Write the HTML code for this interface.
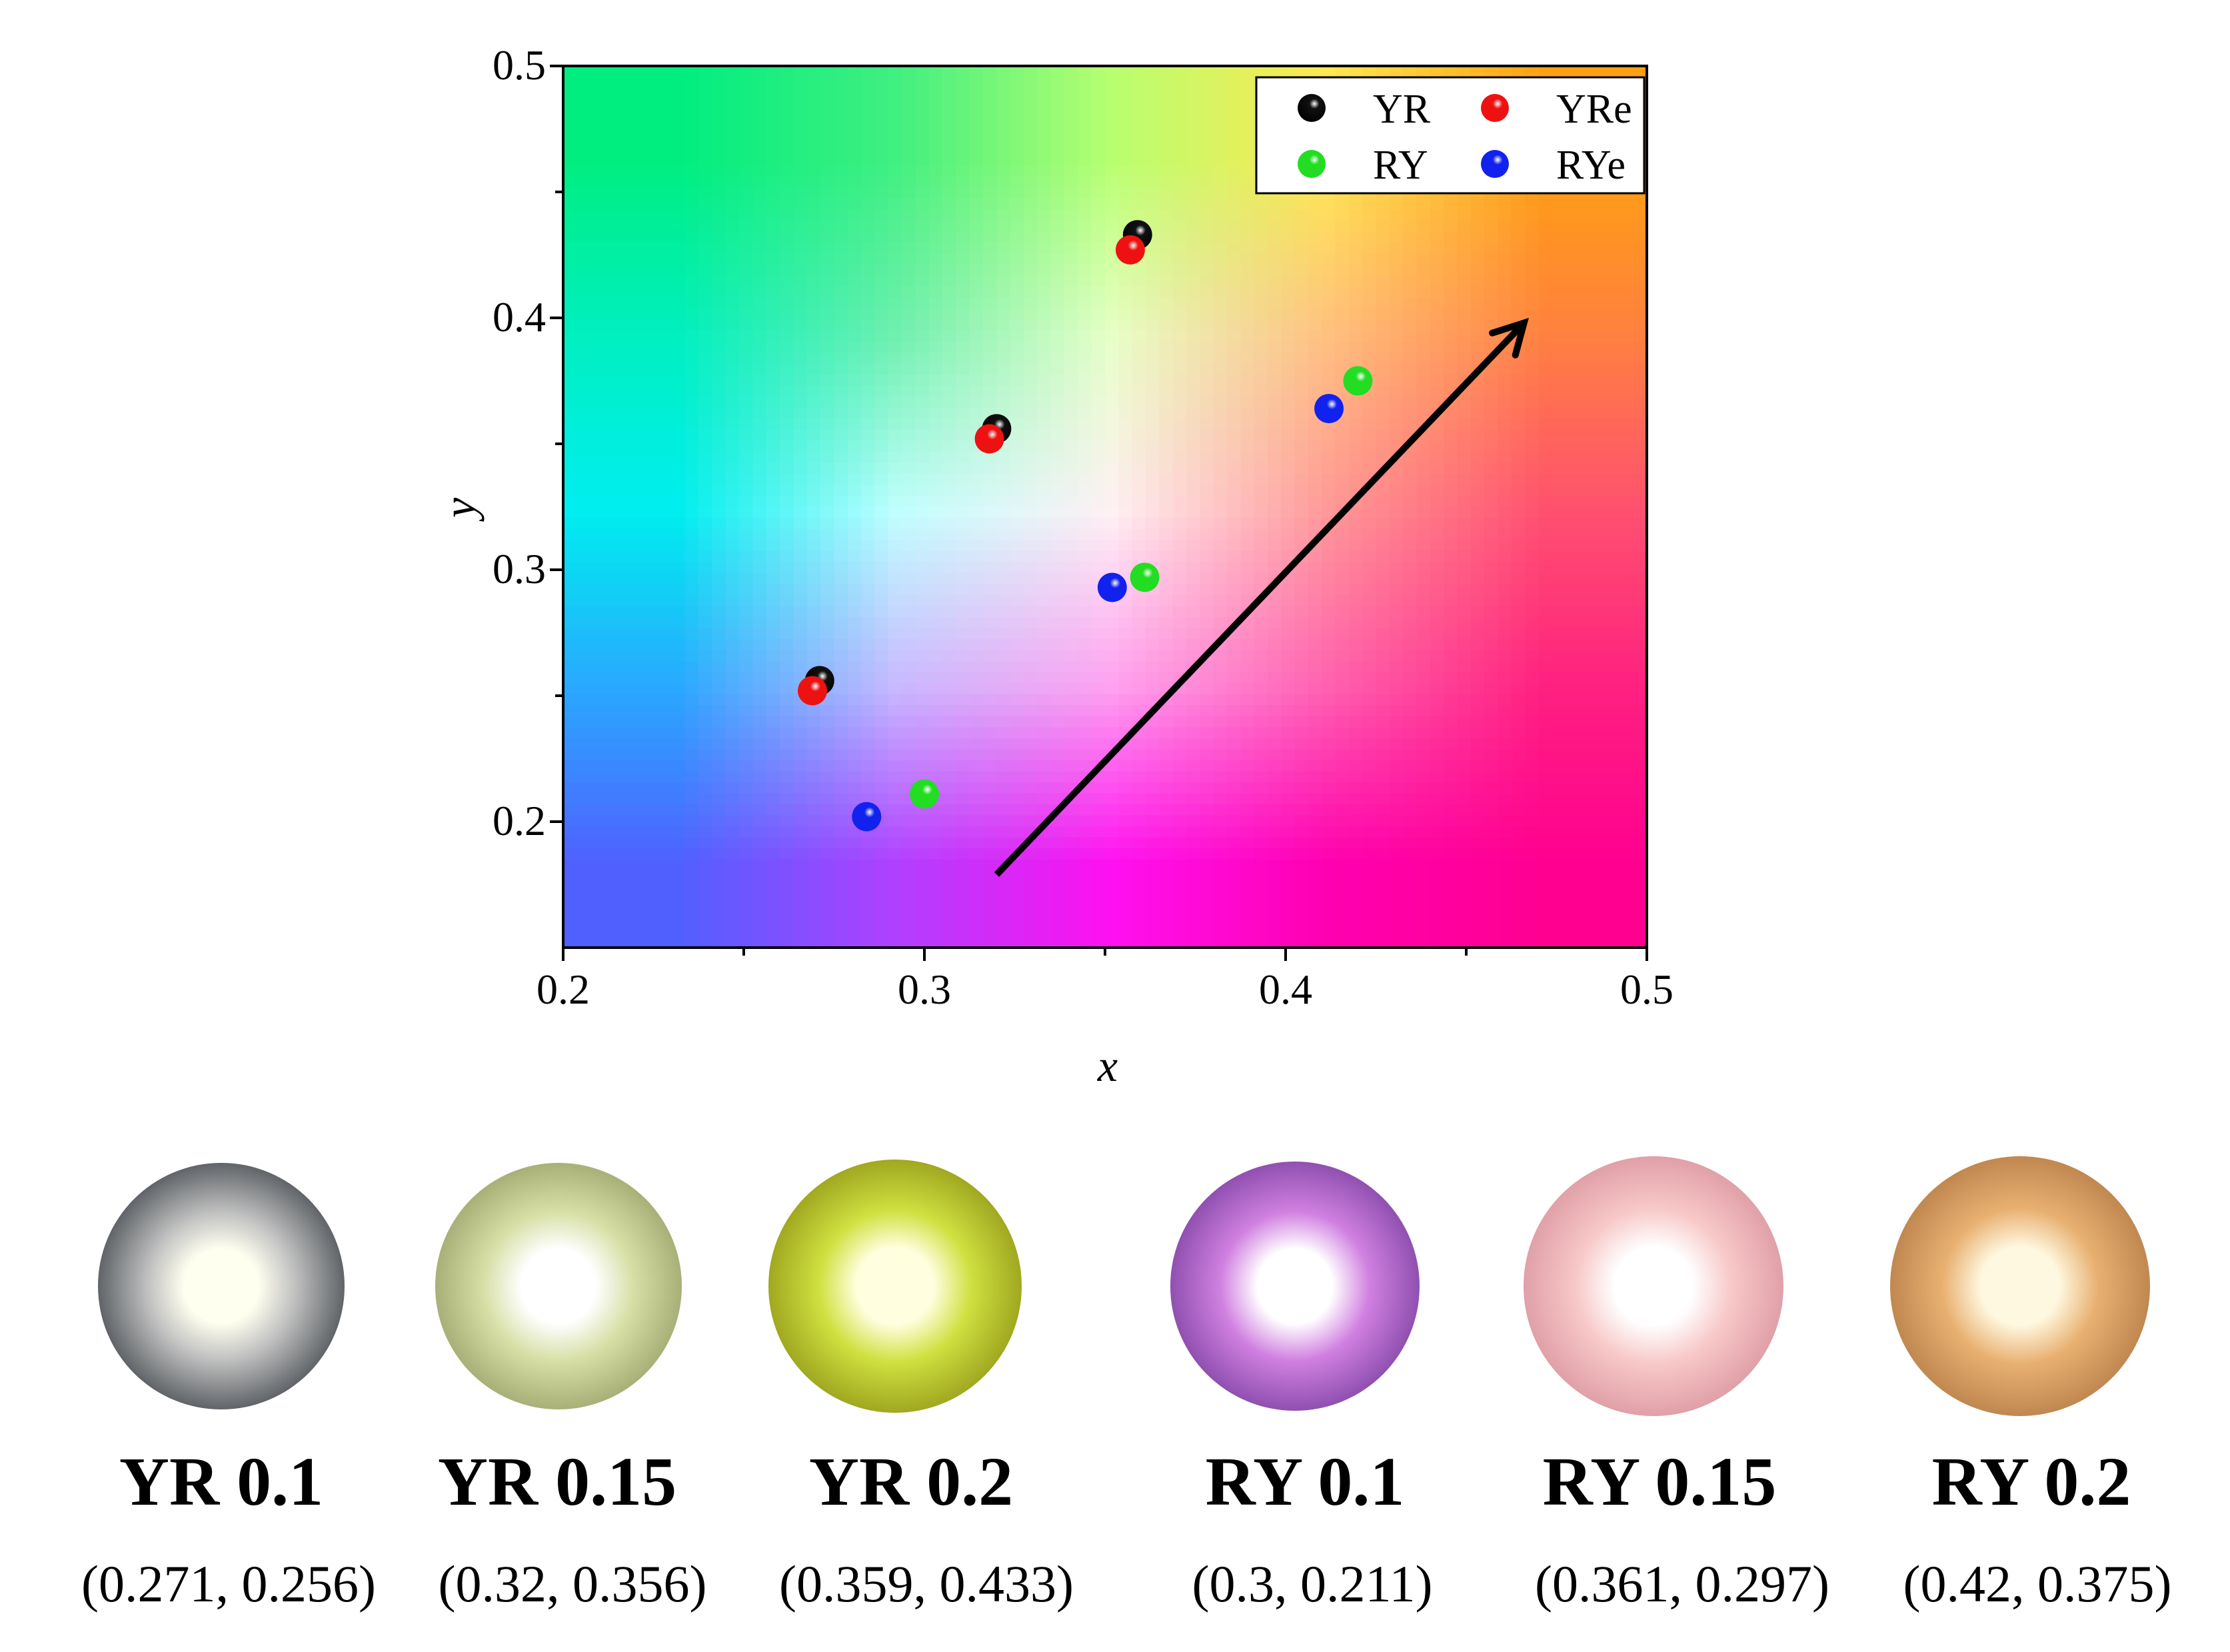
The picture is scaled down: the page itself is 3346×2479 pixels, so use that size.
<!DOCTYPE html>
<html><head><meta charset="utf-8"><style>
html,body{margin:0;padding:0;background:#fff;}
#wrap{position:relative;width:3346px;height:2479px;overflow:hidden;font-family:"Liberation Serif",serif;}
canvas{position:absolute;}
</style></head><body>
<div id="wrap">
<canvas id="bg" width="5" height="5" style="left:845px;top:99px;width:1626px;height:1323px;"></canvas>
<svg id="chart" width="3346" height="2479" style="position:absolute;left:0;top:0;">
<defs></defs>
<g id="plot"></g>
</svg>
</div>
<script>
const NS='http://www.w3.org/2000/svg';
// data
const seriesNames=['YR','YRe','RY','RYe'];
const seriesColors=['#111111','#ee1111','#22dd22','#1122ee'];
const yrX=[0.271,0.32,0.359], yrY=[0.256,0.356,0.433];
const yreX=[0.269,0.318,0.357], yreY=[0.252,0.352,0.427];
const ryX=[0.3,0.361,0.42], ryY=[0.211,0.297,0.375];
const ryeX=[0.284,0.352,0.412], ryeY=[0.202,0.293,0.364];
const xTicks=[0.2,0.3,0.4,0.5], xTickLabels=['0.2','0.3','0.4','0.5'];
const yTicks=[0.2,0.3,0.4,0.5], yTickLabels=['0.2','0.3','0.4','0.5'];
const xMinor=[0.25,0.35,0.45], yMinor=[0.25,0.35,0.45];
const arrowFrom=[0.32,0.179], arrowTo=[0.466,0.398];
const sampleNames=['YR 0.1','YR 0.15','YR 0.2','RY 0.1','RY 0.15','RY 0.2'];
const sampleCoords=['(0.271, 0.256)','(0.32, 0.356)','(0.359, 0.433)','(0.3, 0.211)','(0.361, 0.297)','(0.42, 0.375)'];

const L=845,R=2471,T=99,B=1422;
const X0=0.2,X1=0.5,Y0=0.15,Y1=0.5;
const sx=v=>L+(v-X0)/(X1-X0)*(R-L);
const sy=v=>B-(v-Y0)/(Y1-Y0)*(B-T);

const grid=[
['#00ee80','#40f080','#b8ff70','#ffe850','#ffa010'],
['#00f0c0','#70f0b0','#e8ffc8','#ffc080','#ff8040'],
['#00eef0','#c0ffff','#fff0f4','#ff9898','#ff5070'],
['#2aa8ff','#c8b8ff','#ffa0f0','#ff60b0','#ff2080'],
['#5060ff','#b040ff','#ff10f0','#ff00b0','#ff0090']];
const cv=document.getElementById('bg'),cx=cv.getContext('2d');
grid.forEach((row,j)=>row.forEach((c,i)=>{cx.fillStyle=c;cx.fillRect(i,j,1,1);}));

const g=document.getElementById('plot');
function el(t,a,p){const e=document.createElementNS(NS,t);for(const k in a)e.setAttribute(k,a[k]);(p||g).appendChild(e);return e;}

const frame=el('rect',{x:L,y:T,width:R-L,height:B-T,fill:'none',stroke:'#000','stroke-width':4});



xTicks.forEach((v,i)=>{
 const t=el('line',{x1:sx(v),x2:sx(v),y1:B,y2:B+20,stroke:'#000','stroke-width':4});
 
 
 const tx=el('text',{x:sx(v),y:B+84,'font-size':64,'text-anchor':'middle','font-family':'Liberation Serif, serif'});
 tx.textContent=xTickLabels[i];
 
 
});
xMinor.forEach(v=>{
 const t=el('line',{x1:sx(v),x2:sx(v),y1:B,y2:B+12,stroke:'#000','stroke-width':4});
 
 
});
yTicks.forEach((v,i)=>{
 const t=el('line',{x1:L-20,x2:L,y1:sy(v),y2:sy(v),stroke:'#000','stroke-width':4});
 
 
 const tx=el('text',{x:L-26,y:sy(v)+20,'font-size':64,'text-anchor':'end','font-family':'Liberation Serif, serif'});
 tx.textContent=yTickLabels[i];
 
 
});
yMinor.forEach(v=>{
 const t=el('line',{x1:L-12,x2:L,y1:sy(v),y2:sy(v),stroke:'#000','stroke-width':4});
 
 
});
const xt=el('text',{x:1662,y:1622,'font-size':68,'font-style':'italic','text-anchor':'middle','font-family':'Liberation Serif, serif'});
xt.textContent='x';


const yt=el('text',{x:0,y:0,'font-size':68,'font-style':'italic','text-anchor':'middle','font-family':'Liberation Serif, serif',transform:'translate(712,762) rotate(-90)'});
yt.textContent='y';



const defs=document.querySelector('defs');
seriesColors.forEach((c,i)=>{
 const rg=el('radialGradient',{id:'ball'+i,cx:'0.6',cy:'0.35',r:'0.7'},defs);
 el('stop',{offset:'0','stop-color':'#fff'},rg);
 el('stop',{offset:'0.25','stop-color':c},rg);
 el('stop',{offset:'1','stop-color':i===0?'#000':c},rg);
});
function ball(x,y,i,name){
 const c=el('circle',{cx:x,cy:y,r:22,fill:'url(#ball'+i+')'});
 
 
}
const allX=[yrX,yreX,ryX,ryeX],allY=[yrY,yreY,ryY,ryeY];
allX.forEach((xs,s)=>xs.forEach((v,k)=>ball(sx(v),sy(allY[s][k]),s,'point-'+seriesNames[s].toLowerCase())));

const ax1=sx(arrowFrom[0]),ay1=sy(arrowFrom[1]),ax2=sx(arrowTo[0]),ay2=sy(arrowTo[1]);
const ar=el('line',{x1:ax1,y1:ay1,x2:ax2,y2:ay2,stroke:'#000','stroke-width':10});


const ang=Math.atan2(ay2-ay1,ax2-ax1),hl=50;
const ah=el('polyline',{points:`${ax2-hl*Math.cos(ang-0.5)},${ay2-hl*Math.sin(ang-0.5)} ${ax2},${ay2} ${ax2-hl*Math.cos(ang+0.5)},${ay2-hl*Math.sin(ang+0.5)}`,fill:'none',stroke:'#000','stroke-width':10,'stroke-linecap':'round'});



const lg=el('g',{});


el('rect',{x:1885,y:116,width:582,height:174,fill:'#fff',stroke:'#000','stroke-width':3},lg);
const lpos=[[1968,162],[2243,162],[1968,246],[2243,246]];
seriesNames.forEach((n,i)=>{
 const c=el('circle',{cx:lpos[i][0],cy:lpos[i][1],r:21,fill:'url(#ball'+i+')'},lg);
 
 
 const t=el('text',{x:lpos[i][0]+92,y:lpos[i][1]+22,'font-size':62,'font-family':'Liberation Serif, serif'},lg);
 t.textContent=n;
 
 
});

const cxs=[332,838,1343,1943,2481,3031];
const labelX=[332,836,1367,1958,2490,3048];
const coordX=[343,859,1390,1969,2524,3057];
const rim=['#606468','#a8b078','#a0a820','#9050b0','#e0a0a8','#c08850'];
const mid=['#c0c0c0','#d8e0a8','#d0e040','#d080e0','#f8c8c8','#e8b070'];
const glow=['#fffff0','#ffffff','#ffffe0','#ffffff','#ffffff','#fff8e0'];
const rads=[185,185,190,187,195,195];
sampleNames.forEach((n,i)=>{
 const rg=el('radialGradient',{id:'led'+i,cx:'0.5',cy:'0.5',r:'0.5'},defs);
 el('stop',{offset:'0','stop-color':glow[i]},rg);
 el('stop',{offset:'0.3','stop-color':glow[i]},rg);
 el('stop',{offset:'0.6','stop-color':mid[i]},rg);
 el('stop',{offset:'1','stop-color':rim[i]},rg);
 const c=el('circle',{cx:cxs[i],cy:1930,r:rads[i],fill:'url(#led'+i+')'});
 
 
 const t=el('text',{x:labelX[i],y:2258,'font-size':104,'font-weight':'bold','text-anchor':'middle','font-family':'Liberation Serif, serif'});
 t.textContent=n;
 
 
 const t2=el('text',{x:coordX[i],y:2403,'font-size':78,'text-anchor':'middle','font-family':'Liberation Serif, serif'});
 t2.textContent=sampleCoords[i];
 
 
});
</script>
</body></html>
